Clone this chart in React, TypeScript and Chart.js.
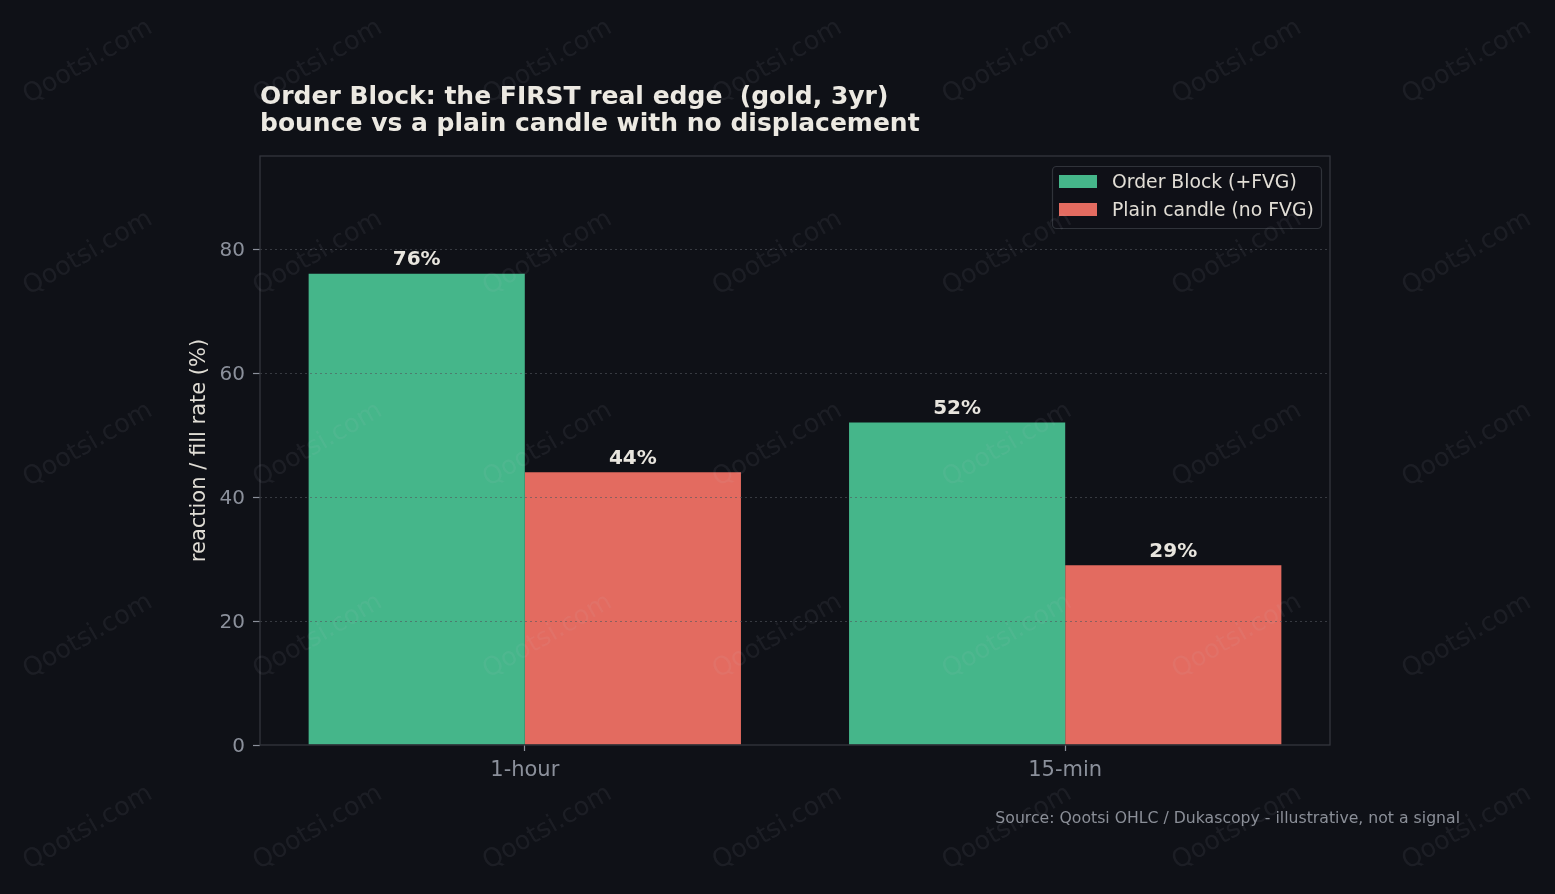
import React, { useEffect, useRef } from 'react';
import { Chart, registerables } from 'chart.js';

Chart.register(...registerables);

const categories = ['1-hour', '15-min'];
const orderBlockRates = [76, 52];
const plainCandleRates = [44, 29];
const seriesLabels = ['Order Block (+FVG)', 'Plain candle (no FVG)'];
const yTickValues = [0, 20, 40, 60, 80];
const titleLines = ['Order Block: the FIRST real edge  (gold, 3yr)', 'bounce vs a plain candle with no displacement'];
const yAxisTitle = 'reaction / fill rate (%)';
const sourceNote = 'Source: Qootsi OHLC / Dukascopy - illustrative, not a signal';
const watermarkText = 'Qootsi.com';

const BG = '#0f1117';
const GREEN = '#45b68a';
const RED = '#e36b60';
const FONT = "'DejaVu Sans', sans-serif";
const TEXT_LIGHT = '#e8e5de';
const TICK_COLOR = '#8b909b';
const FRAME_COLOR = '#33363d';

const decorPlugin = {
  id: 'decor',
  beforeDraw(chart: any) {
    const { ctx, width, height } = chart;
    ctx.save();
    ctx.fillStyle = BG;
    ctx.fillRect(0, 0, width, height);
    ctx.restore();
  },
  afterDatasetsDraw(chart: any) {
    const { ctx, chartArea: a, scales } = chart;
    ctx.save();
    // dotted grid on top of bars
    ctx.strokeStyle = 'rgba(82,86,94,0.6)';
    ctx.lineWidth = 1.2;
    ctx.setLineDash([2, 3]);
    yTickValues.forEach((v) => {
      if (v === 0) return;
      const y = Math.round(scales.y.getPixelForValue(v)) + 0.5;
      ctx.beginPath();
      ctx.moveTo(a.left, y);
      ctx.lineTo(a.right, y);
      ctx.stroke();
    });
    ctx.setLineDash([]);
    // frame
    ctx.strokeStyle = FRAME_COLOR;
    ctx.lineWidth = 1.3;
    ctx.strokeRect(a.left, a.top, a.right - a.left, a.bottom - a.top);

    // value labels
    ctx.fillStyle = TEXT_LIGHT;
    ctx.font = `bold 20px ${FONT}`;
    ctx.textAlign = 'center';
    ctx.textBaseline = 'alphabetic';
    chart.data.datasets.forEach((ds: any, di: number) => {
      const meta = chart.getDatasetMeta(di);
      meta.data.forEach((bar: any, i: number) => {
        ctx.fillText(`${ds.data[i].y}%`, bar.x, bar.y - 8.5);
      });
    });

    // legend
    const lx = 1052, ly = 166, lw = 269, lh = 62;
    ctx.beginPath();
    ctx.roundRect(lx + 0.5, ly + 0.5, lw, lh, 4);
    ctx.fillStyle = 'rgba(15,17,23,0.85)';
    ctx.fill();
    ctx.strokeStyle = '#30333a';
    ctx.lineWidth = 1.2;
    ctx.stroke();
    const colors = [GREEN, RED];
    seriesLabels.forEach((label, i) => {
      const cy = 181.5 + i * 28;
      ctx.fillStyle = colors[i];
      ctx.fillRect(1059, cy - 6.5, 38, 13);
      ctx.fillStyle = '#e2ded6';
      ctx.font = `18.8px ${FONT}`;
      ctx.textAlign = 'left';
      ctx.textBaseline = 'middle';
      ctx.fillText(label, 1112, cy + 2);
    });

    // title
    ctx.fillStyle = '#ece9e2';
    ctx.font = `bold 25px ${FONT}`;
    ctx.textAlign = 'left';
    ctx.textBaseline = 'alphabetic';
    ctx.fillText(titleLines[0], 260, 103.5);
    ctx.fillText(titleLines[1], 260, 131);

    // y axis title
    ctx.save();
    ctx.translate(200, (a.top + a.bottom) / 2);
    ctx.rotate(-Math.PI / 2);
    ctx.fillStyle = '#e0ddd5';
    ctx.font = `21px ${FONT}`;
    ctx.textAlign = 'center';
    ctx.textBaseline = 'middle';
    ctx.fillText(yAxisTitle, 0, 0);
    ctx.restore();

    // source note
    ctx.fillStyle = '#8b8f98';
    ctx.font = `15.7px ${FONT}`;
    ctx.textAlign = 'right';
    ctx.textBaseline = 'alphabetic';
    ctx.fillText(sourceNote, 1460, 822.5);
    ctx.restore();
  },
  afterDraw(chart: any) {
    const { ctx } = chart;
    ctx.save();
    ctx.fillStyle = 'rgba(200,205,215,0.075)';
    ctx.font = `25.5px ${FONT}`;
    ctx.textAlign = 'center';
    ctx.textBaseline = 'middle';
    for (let c = 0; c < 7; c++) {
      for (let r = 0; r < 5; r++) {
        const x = 88 + c * 229.8;
        const y = 62 + r * 191.5;
        ctx.save();
        ctx.translate(x, y);
        ctx.rotate(-Math.PI / 6);
        ctx.fillText(watermarkText, 0, 0);
        ctx.restore();
      }
    }
    ctx.restore();
  },
};

export default function App() {
  const canvasRef = useRef<HTMLCanvasElement | null>(null);

  useEffect(() => {
    document.body.style.margin = '0';
    document.body.style.background = BG;
    const canvas = canvasRef.current;
    if (!canvas) return;
    const chart = new Chart(canvas, {
      type: 'bar',
      data: {
        datasets: [
          {
            label: seriesLabels[0],
            data: orderBlockRates.map((v, i) => ({ x: i, y: v })),
            backgroundColor: GREEN,
            borderWidth: 0,
          },
          {
            label: seriesLabels[1],
            data: plainCandleRates.map((v, i) => ({ x: i, y: v })),
            backgroundColor: RED,
            borderWidth: 0,
          },
        ],
      },
      options: {
        responsive: false,
        animation: false,
        devicePixelRatio: 1,
        layout: { padding: { left: 160, right: 225, top: 156, bottom: 89 } },
        datasets: { bar: { categoryPercentage: 0.8, barPercentage: 1.0 } },
        plugins: {
          legend: { display: false },
          title: { display: false },
          tooltip: { enabled: false },
        },
        scales: {
          x: {
            type: 'linear',
            min: -0.49,
            max: 1.49,
            offset: false,
            afterBuildTicks: (scale: any) => {
              scale.ticks = categories.map((_, i) => ({ value: i }));
            },
            afterFit: (scale: any) => {
              scale.height = 60;
            },
            ticks: {
              callback: (value: any) => categories[value as number] ?? '',
              color: TICK_COLOR,
              font: { family: FONT, size: 21 },
              padding: 7,
              maxRotation: 0,
              autoSkip: false,
            },
            grid: {
              offset: false,
              drawOnChartArea: false,
              drawTicks: true,
              tickLength: 6,
              tickColor: TICK_COLOR,
              tickWidth: 1.2,
            },
            border: { display: false },
          },
          y: {
            type: 'linear',
            min: 0,
            max: 95,
            afterBuildTicks: (scale: any) => {
              scale.ticks = yTickValues.map((v) => ({ value: v }));
            },
            afterFit: (scale: any) => {
              scale.width = 100;
            },
            ticks: {
              color: TICK_COLOR,
              font: { family: FONT, size: 20 },
              padding: 8,
              labelOffset: 1.5,
            },
            grid: {
              drawOnChartArea: false,
              drawTicks: true,
              tickLength: 7,
              tickColor: TICK_COLOR,
              tickWidth: 1.2,
            },
            border: { display: false },
          },
        },
      },
      plugins: [decorPlugin],
    } as any);
    return () => chart.destroy();
  }, []);

  return (
    <div style={{ width: 1555, height: 894, background: BG }}>
      <canvas ref={canvasRef} width={1555} height={894} style={{ display: 'block' }} />
    </div>
  );
}
